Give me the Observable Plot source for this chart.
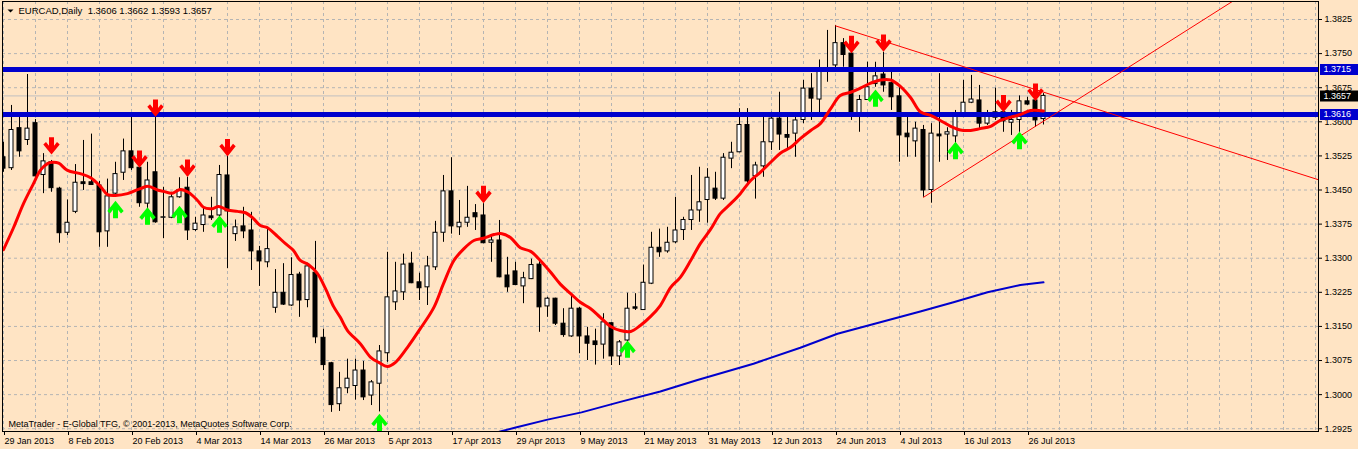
<!DOCTYPE html>
<html><head><meta charset="utf-8">
<script src="https://cdn.jsdelivr.net/npm/d3@7"></script>
<script src="https://cdn.jsdelivr.net/npm/@observablehq/plot@0.6"></script>
<style>
html,body{margin:0;padding:0;background:#FFE4C4;}
#chart{width:1358px;height:449px;overflow:hidden;}
</style></head><body><div id="chart"></div>
<script>
const symbolName = "EURCAD", period = "Daily";
const copyright = "MetaTrader - E-Global TFG, \u00a9 2001-2013, MetaQuotes Software Corp.";

// Daily candles, bar 0 = 29 Jan 2013 ... bar 130 = 30 Jul 2013
const open = [1.3522,1.3498,1.3586,1.3560,1.3597,1.3483,1.3511,1.3453,1.3356,1.3402,
1.3467,1.3467,1.3460,1.3359,1.3442,1.3488,1.3535,1.3499,1.3420,1.3489,
1.3389,1.3389,1.3434,1.3455,1.3362,1.3373,1.3392,1.3394,1.3482,1.3353,
1.3370,1.3361,1.3315,1.3291,1.3191,1.3224,1.3196,1.3264,1.3208,1.3268,
1.3125,1.3069,1.2979,1.3014,1.3019,1.3053,1.2998,1.3024,1.3091,1.3203,
1.3225,1.3288,1.3247,1.3236,1.3280,1.3356,1.3447,1.3368,1.3378,1.3399,
1.3394,1.3334,1.3339,1.3262,1.3271,1.3238,1.3254,1.3286,1.3194,1.3211,
1.3156,1.3128,1.3189,1.3128,1.3117,1.3110,1.3157,1.3084,1.3119,1.3192,
1.3186,1.3244,1.3323,1.3315,1.3335,1.3362,1.3384,1.3405,1.3428,1.3453,
1.3431,1.3519,1.3533,1.3593,1.3480,1.3502,1.3555,1.3607,1.3571,1.3574,
1.3604,1.3673,1.3649,1.3718,1.3724,1.3773,1.3750,1.3618,1.3648,1.3683,
1.3704,1.3685,1.3656,1.3574,1.3557,1.3582,1.3450,1.3572,1.3572,1.3568,
1.3618,1.3642,1.3647,1.3596,1.3609,1.3621,1.3598,1.3604,1.3645,1.3647,
1.3606];
const high = [1.3555,1.3636,1.3612,1.3704,1.3605,1.3530,1.3515,1.3456,1.3428,1.3506,
1.3559,1.3573,1.3469,1.3474,1.3511,1.3562,1.3610,1.3502,1.3511,1.3614,
1.3456,1.3445,1.3477,1.3478,1.3390,1.3412,1.3434,1.3504,1.3526,1.3384,
1.3412,1.3401,1.3326,1.3368,1.3275,1.3288,1.3301,1.3269,1.3289,1.3337,
1.3144,1.3071,1.3049,1.3078,1.3078,1.3073,1.3031,1.3108,1.3313,1.3291,
1.3309,1.3313,1.3267,1.3304,1.3381,1.3482,1.3521,1.3427,1.3458,1.3418,
1.3420,1.3348,1.3383,1.3302,1.3291,1.3269,1.3298,1.3298,1.3214,1.3212,
1.3189,1.3218,1.3192,1.3148,1.3144,1.3178,1.3158,1.3119,1.3223,1.3222,
1.3285,1.3357,1.3364,1.3368,1.3434,1.3390,1.3482,1.3500,1.3497,1.3489,
1.3530,1.3555,1.3629,1.3629,1.3511,1.3617,1.3621,1.3665,1.3610,1.3614,
1.3691,1.3706,1.3736,1.3801,1.3812,1.3783,1.3753,1.3658,1.3731,1.3731,
1.3753,1.3713,1.3680,1.3610,1.3599,1.3592,1.3596,1.3706,1.3587,1.3625,
1.3691,1.3702,1.3680,1.3625,1.3674,1.3636,1.3625,1.3657,1.3654,1.3669,
1.3662];
const low = [1.3489,1.3493,1.3522,1.3548,1.3475,1.3442,1.3445,1.3333,1.3350,1.3398,
1.3449,1.3460,1.3324,1.3324,1.3440,1.3471,1.3493,1.3412,1.3379,1.3377,
1.3343,1.3387,1.3432,1.3339,1.3359,1.3357,1.3383,1.3390,1.3277,1.3337,
1.3343,1.3273,1.3238,1.3279,1.3179,1.3196,1.3194,1.3170,1.3191,1.3112,
1.3053,1.2961,1.2963,1.3002,1.2988,1.2987,1.2976,1.2962,1.3071,1.3185,
1.3207,1.3244,1.3207,1.3196,1.3273,1.3335,1.3353,1.3350,1.3368,1.3361,
1.3332,1.3291,1.3257,1.3225,1.3240,1.3200,1.3253,1.3137,1.3170,1.3152,
1.3126,1.3126,1.3090,1.3075,1.3065,1.3078,1.3064,1.3064,1.3115,1.3185,
1.3185,1.3242,1.3302,1.3311,1.3332,1.3339,1.3361,1.3379,1.3377,1.3427,
1.3427,1.3497,1.3532,1.3463,1.3430,1.3478,1.3537,1.3537,1.3537,1.3522,
1.3596,1.3603,1.3614,1.3687,1.3717,1.3720,1.3603,1.3577,1.3647,1.3676,
1.3665,1.3625,1.3511,1.3522,1.3522,1.3434,1.3421,1.3511,1.3515,1.3533,
1.3617,1.3640,1.3585,1.3592,1.3603,1.3577,1.3570,1.3577,1.3636,1.3588,
1.3593];
const close = [1.3497,1.3582,1.3535,1.3585,1.3480,1.3513,1.3454,1.3355,1.3378,1.3466,
1.3463,1.3461,1.3357,1.3436,1.3485,1.3535,1.3498,1.3421,1.3471,1.3379,
1.3390,1.3434,1.3450,1.3361,1.3376,1.3394,1.3388,1.3483,1.3403,1.3368,
1.3359,1.3315,1.3293,1.3320,1.3224,1.3198,1.3263,1.3207,1.3282,1.3126,
1.3065,1.2977,1.3014,1.3035,1.3053,1.2994,1.3027,1.3095,1.3214,1.3227,
1.3286,1.3245,1.3234,1.3282,1.3356,1.3447,1.3370,1.3378,1.3389,1.3390,
1.3333,1.3339,1.3258,1.3236,1.3241,1.3256,1.3285,1.3192,1.3211,1.3156,
1.3131,1.3189,1.3128,1.3112,1.3109,1.3159,1.3084,1.3115,1.3189,1.3189,
1.3246,1.3323,1.3313,1.3334,1.3361,1.3384,1.3405,1.3423,1.3477,1.3431,
1.3521,1.3532,1.3593,1.3469,1.3504,1.3555,1.3607,1.3572,1.3565,1.3603,
1.3673,1.3651,1.3717,1.3711,1.3773,1.3747,1.3618,1.3648,1.3676,1.3700,
1.3680,1.3654,1.3570,1.3566,1.3585,1.3449,1.3574,1.3568,1.3577,1.3619,
1.3642,1.3649,1.3596,1.3616,1.3621,1.3601,1.3604,1.3645,1.3638,1.3603,
1.3657];

const tickBars = [0,8,16,24,32,40,48,56,64,72,80,88,96,104,112,120,128];
const tickLabels = ["29 Jan 2013","8 Feb 2013","20 Feb 2013","4 Mar 2013","14 Mar 2013","26 Mar 2013","5 Apr 2013","17 Apr 2013","29 Apr 2013","9 May 2013","21 May 2013","31 May 2013","12 Jun 2013","24 Jun 2013","4 Jul 2013","16 Jul 2013","26 Jul 2013"];
const priceTicks = [1.2925,1.3000,1.3075,1.3150,1.3225,1.3300,1.3375,1.3450,1.3525,1.3600,1.3675,1.3750,1.3825];

// red moving average
const maBar = [0,1.25,2.5,3.75,4.6,5.5,6.1,6.9,8,9.6,10.9,12.1,13,14,15.5,17.1,18.1,19.25,20,21.1,22.1,23.1,24.25,25,26.1,26.9,28,29.25,30.25,31.25,32.1,33,34.25,35.25,36.25,37.1,38.1,39.25,40.25,41.25,42.1,43,44.6,45.9,46.9,48,49,50.5,52.1,53.8,55,56.3,57.5,58.8,60,61.3,62.3,63.4,64.6,65.9,67.1,68.4,69.6,70.9,72.1,73.4,74.6,75.9,77.1,78.4,79.6,80.9,82.1,83.4,84.6,85.9,87.1,88.4,89.6,90.9,92.1,93.4,94.6,95.9,97.1,98.4,99.6,100.9,102.1,103.4,104.6,105.9,107.1,108.4,109.6,110.9,112.1,113.4,114.6,115.9,117.1,118.4,119.6,120.9,122.1,123.4,124.6,125.9,127.1,128.4,130];
const maVal = [1.3319,1.3367,1.3420,1.3464,1.3493,1.3508,1.3511,1.3509,1.3493,1.3486,1.3477,1.3458,1.3440,1.3438,1.3442,1.3453,1.3458,1.3450,1.3447,1.3443,1.3451,1.3445,1.3427,1.3412,1.3409,1.3414,1.3406,1.3403,1.3400,1.3387,1.3372,1.3367,1.3348,1.3332,1.3317,1.3295,1.3286,1.3266,1.3233,1.3194,1.3170,1.3141,1.3112,1.3082,1.3071,1.3062,1.3071,1.3104,1.3145,1.3192,1.3244,1.3295,1.3320,1.3339,1.3344,1.3352,1.3354,1.3345,1.3323,1.3315,1.3295,1.3269,1.3243,1.3222,1.3203,1.3189,1.3170,1.3150,1.3141,1.3139,1.3152,1.3172,1.3196,1.3236,1.3258,1.3295,1.3332,1.3364,1.3398,1.3420,1.3442,1.3471,1.3489,1.3511,1.3531,1.3544,1.3563,1.3581,1.3596,1.3629,1.3658,1.3665,1.3674,1.3685,1.3692,1.3692,1.3678,1.3653,1.3622,1.3614,1.3603,1.3590,1.3582,1.3581,1.3585,1.3590,1.3603,1.3610,1.3616,1.3625,1.3624];

// blue long moving average
const slowBar = [59.6,62.1,63.9,68,72.25,77.1,82.1,86.75,93.75,99.6,104.25,109.6,114.6,118.75,123,127.1,130];
const slowVal = [1.2905,1.2919,1.2927,1.2945,1.2961,1.2984,1.3007,1.3032,1.3068,1.3103,1.3134,1.3159,1.3183,1.3203,1.3225,1.3241,1.3247];

const levels = [1.3715, 1.3616];
const bid = 1.3657;

const trendDownBar = [104, 170], trendDownPrice = [1.3811, 1.3441];
const trendUpBar = [115, 160], trendUpPrice = [1.3434, 1.3936];

const sellBar = [6,17,19,23,28,60,106,110,125,129];
const sellPrice = [1.3547,1.3518,1.3630,1.3498,1.3543,1.3440,1.3770,1.3773,1.3640,1.3665];
const buyBar = [14,18,22,27,47,78,109,119,127];
const buyPrice = [1.3407,1.3393,1.3396,1.3375,1.2939,1.3100,1.3652,1.3537,1.3559];

const bars = d3.range(open.length);
const up = bars.filter(i => close[i] >= open[i]);
const down = bars.filter(i => close[i] < open[i]);

function arrow(dir) {
  const pts = [[-2.5,-8.7],[2.5,-8.7],[2.5,-0.2],[5.5,-4],[8.2,-1.4],[0,8.7],[-8.2,-1.4],[-5.5,-4],[-2.5,-0.2]];
  return {draw(ctx, size) {
    const s = Math.sqrt(size / Math.PI) / 9;
    pts.forEach(([x, y], i) => { const X = x * s, Y = y * s * dir; i ? ctx.lineTo(X, Y) : ctx.moveTo(X, Y); });
    ctx.closePath();
  }};
}
const menuTri = {draw(ctx, size) { const s = Math.sqrt(size / Math.PI) / 3; ctx.moveTo(-3*s,-1.6*s); ctx.lineTo(3*s,-1.6*s); ctx.lineTo(0,1.6*s); ctx.closePath(); }};

const BG = "#FFE4C4", GRID = "#b4b4b4", LEVEL = "#0000CD";
const gridBars = d3.range(0, 165, 4);
const title = `${symbolName},${period}\u00a0\u00a0${open[130].toFixed(4)} ${high[130].toFixed(4)} ${low[130].toFixed(4)} ${close[130].toFixed(4)}`;

const chart = Plot.plot({
  width: 1358, height: 449,
  marginLeft: 2, marginRight: 40, marginTop: 1, marginBottom: 18,
  style: {background: BG, color: "black", fontFamily: "'Liberation Sans', Arial, sans-serif", fontSize: "9px"},
  x: {type: "linear", domain: [-0.125, 164.375], axis: null},
  y: {domain: [1.291891, 1.386459], axis: null},
  marks: [
    Plot.gridY(priceTicks, {stroke: GRID, strokeOpacity: 1, strokeDasharray: "3,3"}),
    Plot.gridX(gridBars, {stroke: GRID, strokeOpacity: 1, strokeDasharray: "3,3"}),
    Plot.ruleY([bid], {stroke: "#c0c0c0"}),
    Plot.ruleX(bars, {x: i => i, y1: i => low[i], y2: i => high[i], stroke: "black", clip: true}),
    Plot.rect(down, {x1: i => i - 0.25, x2: i => i + 0.25, y1: i => open[i], y2: i => close[i], fill: "black", stroke: "black", clip: true}),
    Plot.rect(up, {x1: i => i - 0.25, x2: i => i + 0.25, y1: i => open[i], y2: i => close[i], fill: "white", stroke: "black", clip: true}),
    Plot.line(slowBar.map((_, i) => i), {x: i => slowBar[i], y: i => slowVal[i], stroke: LEVEL, strokeWidth: 2, clip: true}),
    Plot.ruleY(levels, {stroke: LEVEL, strokeWidth: 5}),
    Plot.line(maBar.map((_, i) => i), {x: i => maBar[i], y: i => maVal[i], stroke: "#ff0000", strokeWidth: 3, curve: "catmull-rom", clip: true}),
    Plot.line([0, 1], {x: i => trendDownBar[i], y: i => trendDownPrice[i], stroke: "#ff0000", strokeWidth: 1, clip: true}),
    Plot.line([0, 1], {x: i => trendUpBar[i], y: i => trendUpPrice[i], stroke: "#ff0000", strokeWidth: 1, clip: true}),
    Plot.dot(sellBar.map((_, i) => i), {x: i => sellBar[i], y: i => sellPrice[i], r: 9, symbol: arrow(1), fill: "#ff0000"}),
    Plot.dot(buyBar.map((_, i) => i), {x: i => buyBar[i], y: i => buyPrice[i], r: 9, symbol: arrow(-1), fill: "#00ff00"}),
    Plot.frame({stroke: "black"}),
    Plot.axisY(priceTicks, {anchor: "right", tickSize: 3, tickPadding: 3, tickFormat: d => d.toFixed(4), label: null}),
    Plot.axisX(tickBars, {anchor: "bottom", tickSize: 4, tickPadding: 2, textAnchor: "start", dx: 1, tickFormat: d => tickLabels[tickBars.indexOf(d)], label: null}),
    Plot.ruleY(levels, {stroke: LEVEL, strokeWidth: 11, insetLeft: 1278, dx: 40}),
    Plot.ruleY([bid], {stroke: "black", strokeWidth: 11, insetLeft: 1278, dx: 40}),
    Plot.text(levels, {y: d => d, frameAnchor: "right", dx: 5, textAnchor: "start", fill: "white", text: d => d.toFixed(4)}),
    Plot.text([bid], {y: d => d, frameAnchor: "right", dx: 5, textAnchor: "start", fill: "white", text: d => d.toFixed(4)}),
    Plot.text([title], {frameAnchor: "top-left", dx: 16, dy: 12.5, lineAnchor: "bottom", textAnchor: "start", fontSize: "9.5px"}),
    Plot.dot([0], {frameAnchor: "top-left", dx: 8, dy: 9.5, r: 3, symbol: menuTri, fill: "black"}),
    Plot.text([copyright], {frameAnchor: "bottom-left", dx: 6, dy: -5, lineAnchor: "bottom", textAnchor: "start"})
  ]
});
document.getElementById("chart").append(chart);
</script></body></html>
